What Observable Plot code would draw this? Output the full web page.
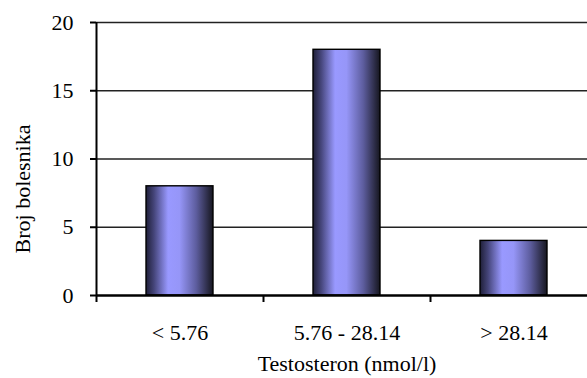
<!DOCTYPE html>
<html>
<head>
<meta charset="utf-8">
<style>
  html, body { margin: 0; padding: 0; background: #fff; overflow: hidden; }
  #chart svg { overflow: hidden; display: block; }
  #chart svg, #chart svg text, #chart svg g {
    font-family: "Liberation Serif", "Times New Roman", serif !important;
  }
</style>
<script src="https://cdn.jsdelivr.net/npm/d3@7"></script>
<script src="https://cdn.jsdelivr.net/npm/@observablehq/plot@0.6"></script>
</head>
<body>
<div id="chart"></div>
<script>
// Patient counts by testosterone range
const categories = ["< 5.76", "5.76 - 28.14", "> 28.14"];
const patients = [8, 18, 4];
const yTicks = [0, 5, 10, 15, 20];
const gridValues = [5, 10, 15, 20];
const xTitle = "Testosteron (nmol/l)";
const yTitle = "Broj bolesnika";

const rows = categories.map((group, i) => ({group, count: patients[i]}));

const W = 587, H = 378;
const M = {top: 22, right: -10, bottom: 83, left: 96};
// width of one category slot (outer padding is half the inner padding)
const step = (W - M.left - M.right) / categories.length;
const font = "'Liberation Serif', 'Times New Roman', serif";

// horizontal shading used to fill each bar
const shading = () => {
  const defs = d3.create("svg:defs");
  const g = defs.append("linearGradient")
    .attr("id", "barShade")
    .attr("x1", 0).attr("x2", 1).attr("y1", 0).attr("y2", 0);
  [[0, "#1f1f38"], [0.12, "#45457a"], [0.33, "#9999ff"], [0.5, "#9696f8"],
   [0.75, "#5d5d9e"], [1, "#16161f"]]
    .forEach(([o, c]) => g.append("stop").attr("offset", o).attr("stop-color", c));
  return defs.node();
};

const chart = Plot.plot({
  width: W,
  height: H,
  marginTop: M.top,
  marginRight: M.right,
  marginBottom: M.bottom,
  marginLeft: M.left,
  style: {fontFamily: font, fontSize: "22px", color: "#000", background: "#fff"},
  x: {domain: categories, paddingInner: 0.6, paddingOuter: 0.3, axis: null},
  y: {domain: [0, 20], axis: null},
  marks: [
    shading,
    Plot.ruleY(gridValues, {stroke: "#222", strokeWidth: 1.6}),
    Plot.barY(rows, {x: "group", y: "count", fill: "url(#barShade)", stroke: "#000", strokeWidth: 1.4}),
    // axis lines
    Plot.ruleY([0], {stroke: "#000", strokeWidth: 2.5}),
    Plot.ruleX([categories[0]], {y1: 0, y2: 20, dx: -step / 2, stroke: "#000", strokeWidth: 2}),
    // y ticks and labels
    Plot.axisY({ticks: yTicks, tickSize: 6, tickPadding: 17, strokeWidth: 2, label: null, tickFormat: d => d}),
    // x ticks between categories
    Plot.axisX({tickSize: 7, dx: -step / 2, strokeWidth: 2, fill: "none", label: null}),
    // x category labels
    Plot.axisX({tickSize: 0, tickPadding: 29, label: null}),
    // axis titles
    Plot.text([xTitle], {frameAnchor: "bottom", textAnchor: "middle", lineAnchor: "middle", dy: 68, fontSize: 22}),
    Plot.text([yTitle], {frameAnchor: "left", textAnchor: "middle", lineAnchor: "middle", rotate: -90, dx: -74, dy: 30, fontSize: 22})
  ]
});

document.getElementById("chart").appendChild(chart);
</script>
</body>
</html>
